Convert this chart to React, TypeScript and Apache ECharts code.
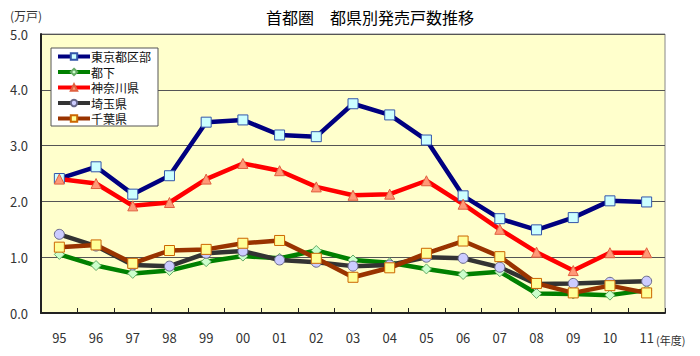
import React, { useEffect, useRef } from "react";
import * as echarts from "echarts";

const years = ["95", "96", "97", "98", "99", "00", "01", "02", "03", "04", "05", "06", "07", "08", "09", "10", "11"];
const tokyoKubu = [2.41, 2.62, 2.13, 2.46, 3.42, 3.46, 3.19, 3.16, 3.75, 3.55, 3.1, 2.1, 1.69, 1.49, 1.71, 2.01, 1.99];
const toka = [1.05, 0.85, 0.71, 0.76, 0.92, 1.02, 0.98, 1.12, 0.95, 0.9, 0.79, 0.69, 0.74, 0.35, 0.34, 0.32, 0.41];
const kanagawa = [2.4, 2.32, 1.92, 1.98, 2.4, 2.68, 2.55, 2.26, 2.11, 2.13, 2.37, 1.95, 1.5, 1.09, 0.76, 1.08, 1.08];
const saitama = [1.41, 1.2, 0.86, 0.84, 1.07, 1.11, 0.95, 0.91, 0.84, 0.86, 1.0, 0.98, 0.82, 0.52, 0.53, 0.55, 0.57];
const chiba = [1.18, 1.22, 0.89, 1.12, 1.14, 1.25, 1.3, 0.98, 0.64, 0.81, 1.07, 1.29, 1.01, 0.53, 0.36, 0.49, 0.36];
const yTicks = [0, 1, 2, 3, 4, 5];

const FONT = "'Noto Sans CJK JP', 'Noto Sans', sans-serif";

export default function App() {
  const ref = useRef<HTMLDivElement>(null);
  useEffect(() => {
    if (!ref.current) return;
    const chart = echarts.init(ref.current, null, { renderer: "svg" });
    const mk = (name: string, data: number[], line: string, fill: string, border: string, symbol: string, size: number) => ({
      name,
      type: "line",
      data,
      symbol,
      symbolSize: size,
      showSymbol: true,
      lineStyle: { color: line, width: 4.5 },
      itemStyle: { color: fill, borderColor: border, borderWidth: 1 },
      emphasis: { disabled: true },
    });
    chart.setOption({
      animation: false,
      backgroundColor: "#ffffff",
      title: {
        text: "首都圏　都県別発売戸数推移",
        left: 365,
        top: 4,
        textAlign: "center",
        textStyle: { fontFamily: FONT, fontSize: 16, fontWeight: "normal", color: "#000" },
      },
      graphic: [
        { type: "text", left: 10, top: 9, style: { text: "(万戸)", font: `12px ${FONT}`, fill: "#333" } },
        { type: "text", left: 656, top: 334, style: { text: "(年度)", font: `11px ${FONT}`, fill: "#333" } },
      ],
      legend: {
        orient: "vertical",
        left: 51,
        top: 48,
        backgroundColor: "#ffffff",
        borderColor: "#555",
        borderWidth: 1,
        padding: [2, 7, 1, 5],
        itemGap: 2.5,
        itemWidth: 32,
        itemHeight: 8,
        lineStyle: { width: 4 },
        textStyle: { fontFamily: FONT, fontSize: 12, lineHeight: 13, color: "#111", padding: [0, 0, 0, -4] },
        data: ["東京都区部", "都下", "神奈川県", "埼玉県", "千葉県"],
      },
      grid: {
        left: 41,
        right: 35,
        top: 34,
        bottom: 43,
        show: true,
        backgroundColor: "#FFFFCC",
        borderColor: "#888",
        borderWidth: 1,
      },
      xAxis: {
        type: "category",
        data: years,
        boundaryGap: true,
        axisLine: { lineStyle: { color: "#222", width: 2 } },
        axisTick: { show: true, inside: true, length: 5, alignWithLabel: false, lineStyle: { color: "#222" } },
        axisLabel: { margin: 18, fontFamily: FONT, fontSize: 13, color: "#333" },
      },
      yAxis: {
        type: "value",
        min: 0,
        max: 5,
        interval: 1,
        axisLine: { show: true, lineStyle: { color: "#222", width: 2 } },
        axisTick: { show: false },
        splitLine: { lineStyle: { color: "#555", width: 1 } },
        axisLabel: {
          margin: 13,
          fontFamily: FONT,
          fontSize: 13,
          color: "#333",
          formatter: (v: number) => (yTicks.includes(v) ? v.toFixed(1) : ""),
        },
      },
      series: [
        mk("東京都区部", tokyoKubu, "#000080", "#CCFFFF", "#3355AA", "rect", 10),
        mk("都下", toka, "#008000", "#CCFFCC", "#66AA66", "diamond", 10),
        mk("神奈川県", kanagawa, "#FF0000", "#FF9977", "#E06040", "triangle", 10),
        mk("埼玉県", saitama, "#333333", "#CCCCFF", "#666688", "circle", 10),
        mk("千葉県", chiba, "#993300", "#FFFF99", "#CC6600", "rect", 10),
      ],
    });
    return () => chart.dispose();
  }, []);
  return <div ref={ref} style={{ width: 700, height: 356, position: "absolute", left: 0, top: 0 }} />;
}
